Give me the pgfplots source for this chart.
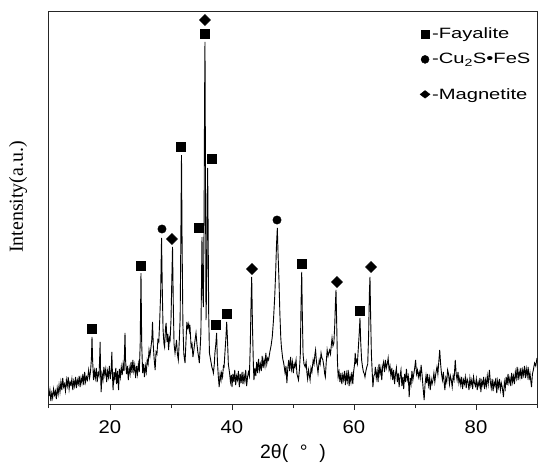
\documentclass[border=0pt]{standalone}
\usepackage{fontspec}
\setmainfont{Liberation Sans}
\newfontfamily\serifont{Liberation Serif}
\newfontfamily\legfam[FakeStretch=1.35]{Liberation Sans}
\newfontfamily\tickfam[FakeStretch=1.1]{Liberation Sans}
\usepackage{pgfplots}
\usepackage{pgfplotstable}
\pgfplotsset{compat=1.18}
\pgfplotstableread{
x y
10.0 8
10.15 14
10.3 3
10.45 11
10.6 6
10.75 15
10.9 9
11.05 13
11.2 5
11.35 16
11.5 10
11.65 19
11.8 12
11.95 22
12.1 14
12.25 26
12.4 17
12.55 20
12.7 13
12.85 24
13.0 18
13.15 27
13.3 15
13.45 22
13.6 19
13.75 25
13.9 14
14.05 23
14.2 18
14.35 27
14.5 16
14.65 24
14.8 20
14.95 28
15.1 17
15.25 26
15.4 21
15.55 30
15.7 19
15.85 32
16.0 22
16.15 27
16.3 24
16.5 34
16.65 26
16.8 32
16.95 45
17.05 67
17.15 44
17.3 24
17.45 33
17.6 26
17.75 36
17.9 22
18.05 31
18.2 28
18.3 45
18.38 62
18.46 30
18.55 12
18.7 30
18.85 24
19.0 37
19.15 29
19.3 35
19.45 22
19.6 33
19.75 27
19.9 38
20.05 25
20.2 34
20.3 52
20.4 30
20.5 14
20.65 32
20.8 25
20.95 36
21.1 20
21.25 33
21.4 14
21.55 35
21.7 27
21.85 37
22.0 29
22.15 40
22.3 33
22.46 71
22.55 44
22.7 30
22.85 38
23.0 24
23.15 36
23.3 30
23.45 42
23.6 31
23.75 44
23.9 33
24.05 39
24.2 26
24.35 38
24.5 30
24.65 40
24.8 32
24.95 60
25.08 131
25.2 60
25.35 31
25.5 40
25.65 27
25.8 38
25.95 32
26.1 44
26.25 40
26.4 54
26.55 48
26.7 56
26.85 64
26.97 82
27.1 58
27.25 44
27.4 34
27.55 52
27.7 50
27.85 64
28.0 62
28.15 84
28.3 110
28.45 166
28.58 112
28.7 74
28.85 60
28.95 57
29.1 76
29.2 81
29.35 62
29.5 70
29.6 54
29.75 66
29.85 64
30.0 84
30.12 120
30.25 157
30.38 98
30.5 60
30.66 51
30.8 58
30.9 64
31.05 50
31.2 44
31.35 62
31.5 86
31.62 170
31.72 249
31.82 160
31.95 80
32.1 50
32.3 41
32.45 62
32.6 82
32.75 76
32.9 80
33.0 74
33.1 79
33.3 57
33.45 60
33.6 47
33.75 54
33.9 62
34.1 71
34.25 60
34.4 52
34.55 46
34.64 41
34.8 58
34.9 71
35.0 120
35.08 167
35.17 120
35.3 97
35.42 180
35.5 300
35.57 362
35.64 250
35.74 84
35.85 120
35.95 200
36.01 236
36.08 180
36.18 90
36.3 51
36.5 44
36.7 37
36.85 34
36.95 31
37.1 40
37.2 51
37.35 60
37.48 71
37.6 44
37.75 28
37.9 17
38.05 30
38.2 24
38.3 31
38.45 27
38.6 38
38.7 37
38.85 52
39.0 66
39.13 82
39.25 66
39.4 40
39.6 31
39.75 22
39.9 29
40.0 17
40.15 30
40.3 22
40.45 34
40.6 19
40.75 28
40.9 24
41.05 33
41.2 17
41.35 30
41.5 21
41.65 32
41.8 20
41.95 29
42.1 23
42.25 34
42.4 18
42.55 27
42.7 32
42.85 28
43.0 60
43.12 100
43.23 127
43.35 80
43.5 40
43.6 24
43.75 36
43.9 28
44.05 42
44.2 31
44.35 45
44.5 34
44.65 40
44.8 33
44.95 48
45.1 36
45.25 44
45.4 38
45.55 51
45.7 40
45.85 46
46.0 44
46.2 52
46.4 58
46.6 67
46.8 84
47.0 107
47.15 130
47.3 160
47.43 176
47.55 150
47.7 124
47.85 90
48.0 66
48.1 57
48.3 46
48.5 40
48.7 31
48.85 38
49.0 21
49.15 36
49.3 44
49.45 33
49.6 47
49.75 35
49.9 42
50.05 31
50.2 40
50.33 37
50.5 44
50.65 30
50.9 24
51.05 34
51.2 50
51.32 100
51.43 132
51.53 90
51.65 50
51.8 40
52.0 37
52.15 42
52.3 30
52.4 25
52.55 34
52.7 28
52.8 24
52.95 36
53.1 32
53.3 44
53.45 40
53.6 50
53.7 54
53.85 42
54.0 36
54.1 31
54.3 44
54.45 40
54.6 51
54.75 46
54.9 44
55.05 38
55.2 30
55.3 27
55.45 42
55.6 54
55.75 48
55.9 52
56.0 54
56.15 50
56.3 60
56.4 66
56.55 58
56.7 61
56.85 80
56.95 100
57.05 114
57.15 85
57.28 44
57.4 27
57.55 32
57.7 22
57.85 31
58.0 20
58.15 29
58.3 24
58.45 33
58.6 19
58.75 30
58.9 23
59.05 34
59.2 18
59.35 28
59.5 22
59.65 32
59.8 20
59.95 33
60.1 40
60.2 51
60.3 42
60.4 44
60.55 40
60.7 55
60.85 70
60.98 86
61.1 62
61.25 44
61.4 37
61.55 32
61.7 30
61.8 27
61.95 33
62.1 37
62.25 40
62.4 70
62.52 110
62.62 127
62.72 90
62.85 50
63.0 30
63.1 17
63.25 28
63.4 30
63.5 37
63.65 26
63.8 33
63.95 22
64.1 40
64.25 30
64.4 36
64.55 24
64.7 38
64.85 42
65.0 32
65.15 44
65.3 36
65.45 40
65.6 46
65.75 34
65.9 38
66.05 28
66.2 36
66.35 24
66.5 34
66.65 20
66.8 30
66.95 36
67.1 22
67.25 31
67.4 17
67.55 28
67.7 34
67.85 18
68.0 27
68.15 15
68.3 30
68.45 22
68.6 35
68.75 24
68.9 28
69.05 7
69.2 26
69.35 20
69.5 33
69.65 24
69.8 30
69.95 36
70.1 44
70.25 30
70.4 34
70.55 27
70.7 32
70.85 26
71.0 39
71.15 30
71.3 18
71.5 4
71.65 20
71.8 28
71.9 21
72.05 30
72.2 19
72.35 26
72.5 14
72.65 25
72.8 20
72.95 24
73.1 31
73.25 22
73.4 30
73.6 37
73.75 30
73.9 42
74.05 54
74.2 40
74.35 30
74.5 24
74.65 32
74.8 20
74.9 14
75.05 26
75.2 22
75.35 34
75.5 30
75.65 20
75.8 28
75.95 24
76.1 17
76.25 28
76.4 24
76.6 44
76.75 30
76.9 24
77.05 32
77.2 21
77.35 26
77.5 19
77.65 27
77.8 15
77.95 24
78.1 20
78.25 27
78.4 16
78.55 25
78.7 22
78.85 14
79.0 26
79.15 19
79.3 24
79.45 15
79.6 27
79.75 21
79.9 18
80.05 25
80.2 14
80.35 22
80.5 18
80.65 26
80.8 12
80.95 23
81.1 19
81.25 27
81.4 15
81.55 24
81.7 18
81.85 28
82.0 20
82.2 34
82.35 22
82.5 16
82.65 25
82.8 13
82.95 22
83.1 18
83.25 26
83.4 11
83.55 23
83.7 17
83.85 25
84.0 14
84.15 21
84.3 17
84.5 7
84.65 22
84.8 16
84.95 27
85.1 19
85.25 30
85.4 21
85.55 26
85.7 18
85.85 31
86.0 22
86.15 28
86.3 20
86.45 32
86.6 26
86.75 37
86.9 24
87.05 33
87.2 27
87.35 36
87.5 25
87.65 34
87.8 29
87.95 38
88.1 26
88.25 35
88.4 28
88.55 37
88.7 24
88.85 31
89.0 22
89.1 17
89.25 30
89.4 34
89.6 41
89.8 38
90.0 46
}\xrdtab
\pgfplotstableread{
x y
17.05 75
25.08 138
31.64 257
34.59 176
35.57 370
36.72 245
37.38 79
39.18 90
51.48 140
60.98 93
}\faytab
\pgfplotstableread{
x y
28.52 175
47.38 184
}\custab
\pgfplotstableread{
x y
30.16 165
35.57 384
43.28 135
57.21 122
62.79 137
}\magtab
\newcommand\legfont{\legfam\fontsize{15}{18}\selectfont}
\begin{document}
\begin{tikzpicture}
\begin{axis}[
  name=ax,
  scale only axis, width=488bp, height=393bp,
  xmin=10, xmax=90, ymin=0, ymax=393,
  xtick={20,40,60,80}, minor xtick={10,30,50,70,90},
  ytick=\empty,
  xtick pos=bottom, tick align=outside,
  major tick length=6bp, minor tick length=4bp,
  axis line style={line width=1bp, black!85},
  every tick/.style={black!85, line width=1bp},
  tick label style={font=\tickfam\fontsize{18.5}{20}\selectfont},
  xticklabel style={yshift=-7bp},
  /pgf/number format/assume math mode=true,
  xlabel={2θ(\hspace{0.6em}°\hspace{0.6em})},
  xlabel style={font=\fontsize{19.5}{22}\selectfont, at={(axis description cs:0.5,-0.1247)}, anchor=center},
  ylabel={Intensity(a.u.)},
  ylabel style={font=\serifont\fontsize{20}{22}\selectfont, at={(axis description cs:-0.0635,0.527)}, anchor=center},
  clip=false,
  legend style={draw=none, fill=none, at={(axis description cs:0.760,0.962)}, anchor=north west,
    inner sep=0pt, row sep=9bp},
  legend cell align=left,
  legend image code/.code={\draw[#1] plot coordinates {(0bp,0bp)};},
]
\addplot[black, line width=0.9bp, forget plot] table[x=x,y=y] {\xrdtab};
\addplot[only marks, mark=square*, mark size=4.5bp, black, forget plot] table[x=x,y=y] {\faytab};
\addplot[only marks, mark=*, mark size=4.2bp, black, forget plot] table[x=x,y=y] {\custab};
\addplot[only marks, mark=square*, mark size=3.9bp, mark options={rotate=45}, black, forget plot] table[x=x,y=y] {\magtab};
\addlegendimage{only marks, mark=square*, mark size=4.1bp, black}
\addlegendentry{\legfont -Fayalite}
\addlegendimage{only marks, mark=*, mark size=4bp, black}
\addlegendentry{\legfont -Cu\textsubscript{2}S•FeS}
\addlegendimage{legend image code/.code={\path[draw=none, fill=none] (0bp,0bp) rectangle (0.1bp,18bp); \draw[only marks, mark=square*, mark size=2.72bp, mark options={xscale=1.3, rotate=45}, black] plot coordinates {(0bp,0bp)};}}
\addlegendentry{\legfont -Magnetite}
\end{axis}
\path ([xshift=-49bp,yshift=-68bp]ax.south west) rectangle ([xshift=13bp,yshift=11bp]ax.north east);
\end{tikzpicture}
\end{document}
